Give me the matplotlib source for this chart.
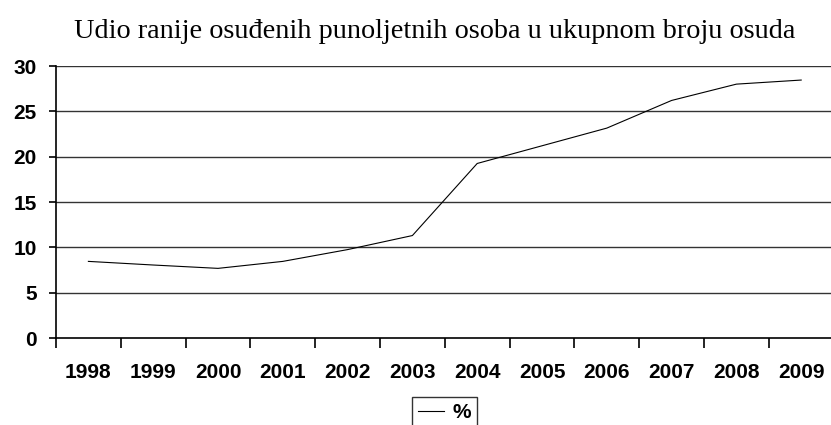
import matplotlib.pyplot as plt
import numpy as np

years = ['1998', '1999', '2000', '2001', '2002', '2003',
         '2004', '2005', '2006', '2007', '2008', '2009']
percent = [8.45, 8.05, 7.68, 8.45, 9.75, 11.3,
           19.25, 21.2, 23.15, 26.2, 28.0, 28.45]
title = 'Udio ranije osuđenih punoljetnih osoba u ukupnom broju osuda'

fig = plt.figure(figsize=(8.31, 4.25), dpi=100)
ax = fig.add_axes([56 / 831, 1 - 338 / 425, 777.6 / 831, 272 / 425])

x = np.arange(len(years))
ax.plot(x, percent, color='black', linewidth=0.8, label='%')

ax.set_xlim(-0.5, len(years) - 0.5)
ax.set_ylim(0, 30)
ax.set_yticks(range(0, 31, 5))
for v in range(5, 31, 5):
    ax.axhline(v, color='#333333', linewidth=1.0, zorder=0)

ax.set_xticks(np.arange(-0.5, len(years) - 0.5, 1))
ax.set_xticklabels([])
ax.set_xticks(x, minor=True)
ax.set_xticklabels(years, minor=True)
ax.tick_params(axis='x', which='major', direction='out', length=7, width=1.2)
ax.tick_params(axis='x', which='minor', length=0, pad=18)
ax.tick_params(axis='y', direction='out', length=5, width=1.2, pad=9)

for lab in ax.get_xticklabels(minor=True) + ax.get_yticklabels():
    lab.set_fontfamily('Liberation Sans')
    lab.set_fontweight('bold')
    lab.set_fontsize(15)

ax.spines['top'].set_visible(False)
ax.spines['right'].set_visible(False)
ax.spines['left'].set_linewidth(1.2)
ax.spines['bottom'].set_linewidth(1.2)

fig.text(435 / 831, 1 - 32 / 425, title, ha='center', va='center',
         fontfamily='Liberation Serif', fontsize=20.3)

leg = fig.legend(loc='upper left', bbox_to_anchor=(412 / 831, 1 - 397 / 425),
                 borderaxespad=0, frameon=True, fancybox=False,
                 handlelength=1.25, borderpad=0.3, handletextpad=0.4,
                 prop={'family': 'Liberation Sans', 'weight': 'bold', 'size': 15})
leg.get_frame().set_edgecolor('black')
leg.get_frame().set_linewidth(1.0)

fig.savefig('out.png', dpi=100)
